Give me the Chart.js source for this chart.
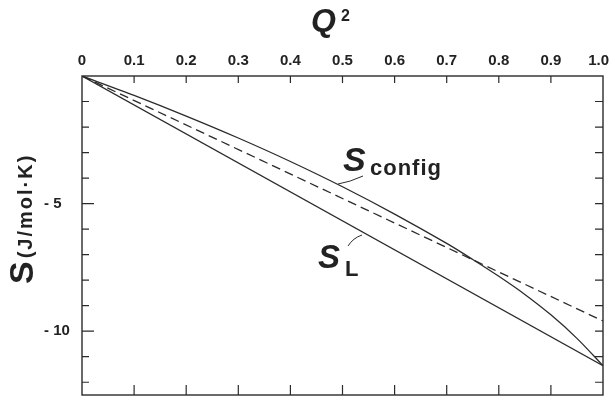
<!DOCTYPE html>
<html>
<head>
<meta charset="utf-8">
<script src="https://cdn.jsdelivr.net/npm/chart.js@4/dist/chart.umd.min.js"></script>
<style>
  html, body { margin: 0; padding: 0; background: #fff; }
  #wrap { width: 610px; height: 397px; }
</style>
</head>
<body>
<div id="wrap"><canvas id="chart" width="610" height="397"></canvas></div>
<script>
// data
const configQ2 = [0, 0.1, 0.2, 0.3, 0.4, 0.5, 0.6, 0.7, 0.75, 0.8, 0.85, 0.9, 0.95, 1.0];
const configS  = [0, -0.76, -1.57, -2.43, -3.35, -4.34, -5.41, -6.56, -7.19, -7.85, -8.56, -9.36, -10.28, -11.35];
const straightQ2 = [0, 1.0];
const lineS = [0, -11.35];     // S_L
const dashS = [0, -9.6];       // dashed reference line

const xTicks = [0, 0.1, 0.2, 0.3, 0.4, 0.5, 0.6, 0.7, 0.8, 0.9, 1.0];
const xTickLabels = ['0', '0.1', '0.2', '0.3', '0.4', '0.5', '0.6', '0.7', '0.8', '0.9', '1.0'];
const yTicks = [-1, -2, -3, -4, -5, -6, -7, -8, -9, -10, -11, -12];
const yMajor = [-5, -10];
const yMajorLabels = ['- 5', '- 10'];

const INK = '#2b2b2b';
const FONT = "'Liberation Sans', Arial, sans-serif";

const pts = (xs, ys) => xs.map((x, i) => ({ x: x, y: ys[i] }));

// frame, inward ticks, labels and annotations
const framePlugin = {
    id: 'frame',
    afterDraw(chart) {
        const ctx = chart.ctx;
        const a = chart.chartArea;
        const xs = chart.scales.x, ys = chart.scales.y;
        ctx.save();
        ctx.strokeStyle = INK;
        ctx.fillStyle = '#222';
        ctx.lineWidth = 1.4;
        ctx.strokeRect(a.left, a.top, a.right - a.left, a.bottom - a.top);

        // x ticks (top and bottom)
        ctx.lineWidth = 1.2;
        xTicks.forEach(v => {
            const px = xs.getPixelForValue(v);
            if (v > 0 && v < 1) {
                ctx.beginPath();
                ctx.moveTo(px, a.top); ctx.lineTo(px, a.top + 7);
                ctx.moveTo(px, a.bottom); ctx.lineTo(px, a.bottom - 10);
                ctx.stroke();
            }
        });
        // y ticks (left and right)
        yTicks.forEach(v => {
            const py = ys.getPixelForValue(v);
            const len = yMajor.includes(v) ? 12 : 7;
            ctx.beginPath();
            ctx.moveTo(a.left, py); ctx.lineTo(a.left + len, py);
            ctx.moveTo(a.right, py); ctx.lineTo(a.right - 8, py);
            ctx.stroke();
        });

        // x tick labels
        ctx.font = 'bold 15px ' + FONT;
        ctx.textAlign = 'center';
        ctx.textBaseline = 'middle';
        xTicks.forEach((v, i) => {
            let px = xs.getPixelForValue(v);
            const w = ctx.measureText(xTickLabels[i]).width;
            if (px + w / 2 > chart.width - 1) px = chart.width - 1 - w / 2;
            ctx.fillText(xTickLabels[i], px, 61);
        });
        // y tick labels
        ctx.textAlign = 'left';
        yMajor.forEach((v, i) => {
            ctx.fillText(yMajorLabels[i], 44, ys.getPixelForValue(v));
        });

        // x title Q^2
        ctx.textBaseline = 'alphabetic';
        ctx.font = 'italic bold 32px ' + FONT;
        ctx.fillText('Q', 311, 31);
        ctx.font = 'bold 16px ' + FONT;
        ctx.fillText('2', 341, 21);

        // y title, rotated
        ctx.save();
        ctx.translate(33, 284);
        ctx.rotate(-Math.PI / 2);
        ctx.font = 'bold 34px ' + FONT;
        ctx.fillText('S', 0, 0);
        const sw = ctx.measureText('S').width;
        ctx.font = 'bold 20px ' + FONT;
        ctx.letterSpacing = '2px';
        ctx.fillText('(J/mol\u00B7K)', sw + 3, -1);
        ctx.restore();

        // S_config label with leader
        ctx.font = 'italic bold 34px ' + FONT;
        ctx.fillText('S', 343, 171);
        ctx.font = 'bold 22px ' + FONT;
        ctx.letterSpacing = '1px';
        ctx.fillText('config', 370, 175);
        ctx.letterSpacing = '0px';
        ctx.lineWidth = 1;
        ctx.beginPath();
        ctx.moveTo(363, 176);
        ctx.quadraticCurveTo(350, 182, 338, 184);
        ctx.stroke();

        // S_L label with leader
        ctx.font = 'italic bold 33px ' + FONT;
        ctx.fillText('S', 318, 268);
        ctx.font = 'bold 22px ' + FONT;
        ctx.fillText('L', 345, 276);
        ctx.beginPath();
        ctx.moveTo(348, 246);
        ctx.quadraticCurveTo(353, 238, 362, 235);
        ctx.stroke();

        ctx.restore();
    }
};

new Chart(document.getElementById('chart'), {
    type: 'line',
    data: {
        datasets: [
            {
                label: 'S config',
                data: pts(configQ2, configS),
                borderColor: INK, borderWidth: 1.3,
                pointRadius: 0, tension: 0.3
            },
            {
                label: 'S L',
                data: pts(straightQ2, lineS),
                borderColor: INK, borderWidth: 1.3,
                pointRadius: 0
            },
            {
                label: 'dashed',
                data: pts(straightQ2, dashS),
                borderColor: INK, borderWidth: 1.3, borderDash: [9, 5],
                pointRadius: 0
            }
        ]
    },
    options: {
        responsive: false,
        animation: false,
        layout: { padding: { left: 82, top: 76, right: 7, bottom: 2 } },
        plugins: { legend: { display: false }, tooltip: { enabled: false } },
        scales: {
            x: { type: 'linear', min: 0, max: 1, display: false },
            y: { type: 'linear', min: -12.5, max: 0, display: false }
        }
    },
    plugins: [framePlugin]
});
</script>
</body>
</html>
